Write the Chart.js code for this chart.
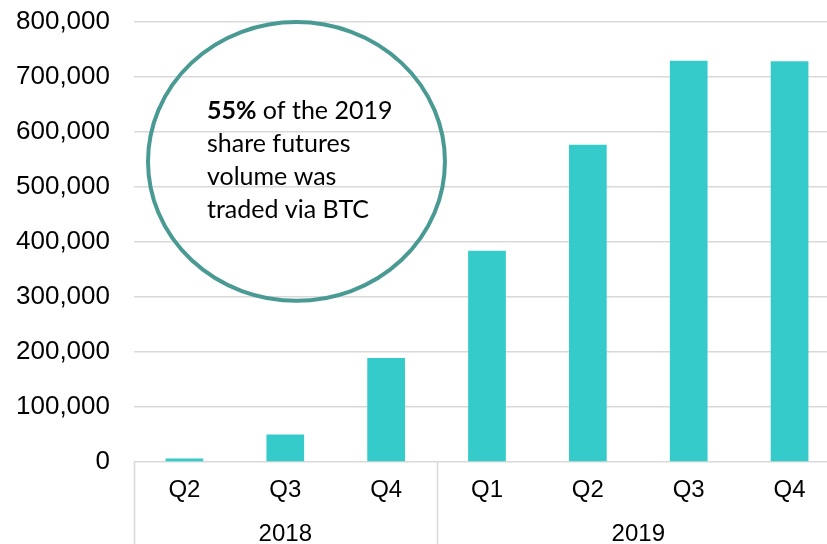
<!DOCTYPE html>
<html><head><meta charset="utf-8">
<script src="https://cdn.jsdelivr.net/npm/chart.js@4"></script>
<style>
html,body{margin:0;padding:0;background:#fff;overflow:hidden;}
#wrap{position:relative;width:840px;height:544px;}
</style></head><body>
<div id="wrap"><canvas id="c" width="840" height="544"></canvas></div>
<script>
// ---- data ----
const quarters = ['Q2', 'Q3', 'Q4', 'Q1', 'Q2', 'Q3', 'Q4'];
const years = ['2018', '2019'];
const yearCounts = [3, 4];
const volumes = [6500, 50000, 189000, 384000, 577000, 729500, 728500];
const yMax = 800000;
const yStep = 100000;
const noteBold = '55%';
const noteLines = [' of the 2019', 'share futures', 'volume was', 'traded via BTC'];

// ---- styles ----
const barColor = '#36CBCB';
const gridColor = '#D9D9D9';
const ringColor = '#4A9A94';
const fontFamily = '"Liberation Sans", Arial, sans-serif';
const noteFamily = 'Lato, "Open Sans", sans-serif';

// group centers and boundaries in category units
const groupCenters = [];
const groupBounds = [-0.5];
{
  let s = 0;
  yearCounts.forEach(n => { groupCenters.push(s + (n - 1) / 2); s += n; groupBounds.push(s - 0.5); });
}

const decorations = {
  id: 'decorations',
  afterDraw(chart) {
    const ctx = chart.ctx;
    const x = chart.scales.x, y = chart.scales.y;
    const area = chart.chartArea;
    ctx.save();
    // group separators below the axis
    ctx.strokeStyle = gridColor;
    ctx.lineWidth = 1.5;
    groupBounds.forEach(b => {
      const px = Math.round(x.getPixelForValue(b)) + 0.5;
      ctx.beginPath();
      ctx.moveTo(px, area.bottom);
      ctx.lineTo(px, chart.height);
      ctx.stroke();
    });
    // year labels (second category level)
    ctx.fillStyle = '#000';
    ctx.font = '24px ' + fontFamily;
    ctx.textAlign = 'center';
    ctx.textBaseline = 'middle';
    years.forEach((yr, i) => {
      ctx.fillText(yr, x.getPixelForValue(groupCenters[i]), area.bottom + 72);
    });
    // annotation ring (placed in data units)
    const cx = x.getPixelForValue(1.111);
    const cy = y.getPixelForValue(546500);
    const rx = Math.abs(x.getPixelForValue(1.111 + 1.472) - cx);
    const ry = Math.abs(y.getPixelForValue(546500 + 253500) - cy);
    ctx.strokeStyle = ringColor;
    ctx.lineWidth = 4;
    ctx.beginPath();
    ctx.ellipse(cx, cy, rx, ry, 0, 0, Math.PI * 2);
    ctx.stroke();
    // annotation text
    const tx = cx - 89.5;
    let ty = cy - 42;
    const lh = 33;
    ctx.textBaseline = 'alphabetic';
    ctx.textAlign = 'left';
    ctx.font = 'bold 25px ' + noteFamily;
    ctx.fillText(noteBold, tx, ty);
    const bw = ctx.measureText(noteBold).width;
    ctx.font = '25px ' + noteFamily;
    ctx.fillText(noteLines[0], tx + bw, ty);
    for (let i = 1; i < noteLines.length; i++) {
      ty += lh;
      ctx.fillText(noteLines[i], tx, ty);
    }
    ctx.restore();
  }
};

new Chart(document.getElementById('c'), {
  type: 'bar',
  data: {
    labels: quarters,
    datasets: [{
      data: volumes,
      backgroundColor: barColor,
      categoryPercentage: 1,
      barPercentage: 0.374
    }]
  },
  options: {
    responsive: false,
    devicePixelRatio: 1,
    animation: false,
    layout: { padding: { top: 22, right: 0, left: 0, bottom: 0 } },
    plugins: { legend: { display: false }, tooltip: { enabled: false } },
    scales: {
      x: {
        type: 'category',
        position: 'bottom',
        grid: { display: false, drawTicks: false },
        border: { display: false },
        ticks: { color: '#000', font: { family: fontFamily, size: 24 }, padding: 14, maxRotation: 0, autoSkip: false },
        afterFit(s) { s.height = 82; }
      },
      y: {
        min: 0,
        max: yMax,
        grid: { color: gridColor, lineWidth: 1.5, drawTicks: false },
        border: { display: false },
        ticks: {
          stepSize: yStep,
          color: '#000',
          font: { family: fontFamily, size: 26 },
          padding: 24,
          callback: v => v.toLocaleString('en-US')
        },
        afterFit(s) { s.width = 134; s.paddingTop = 0; s.paddingBottom = 0; }
      }
    }
  },
  plugins: [decorations]
});
</script>
</body></html>
